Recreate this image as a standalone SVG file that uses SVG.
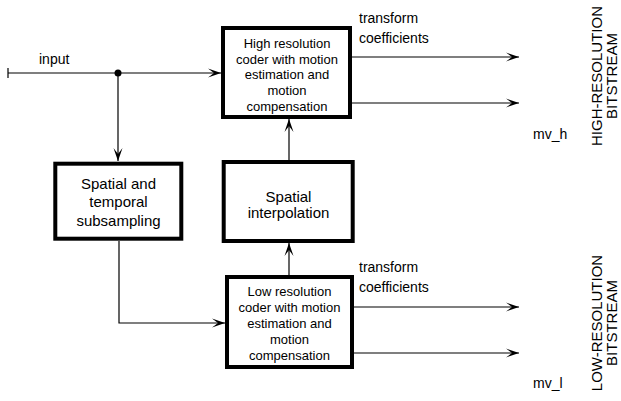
<svg xmlns="http://www.w3.org/2000/svg" width="621" height="401" viewBox="0 0 621 401">
<style>
.box{fill:#fff;stroke:#000;stroke-width:4}
.ln{fill:none;stroke:#000;stroke-width:1.2}
text{font-family:"Liberation Sans",Arial,sans-serif;fill:#000}
.s{font-size:13px;text-anchor:middle}
.m{font-size:15px;text-anchor:middle}
.l{font-size:14px}
.v{font-size:15px;text-anchor:middle}
</style>
<defs>
<marker id="ah" markerUnits="userSpaceOnUse" markerWidth="14" markerHeight="12" refX="13" refY="5" orient="auto">
<path d="M0,0.5 L13,5 L0,9.5 L6,5 z" fill="#000"/>
</marker>
</defs>
<g id="connectors">
<line class="ln" x1="8" y1="68" x2="8" y2="78"/>
<line class="ln" x1="8" y1="73" x2="221" y2="73" marker-end="url(#ah)"/>
<circle cx="118" cy="73" r="3.5" fill="#000"/>
<line class="ln" x1="118" y1="73" x2="118" y2="161" marker-end="url(#ah)"/>
<polyline class="ln" points="119,241 119,323 225,323" marker-end="url(#ah)"/>
<line class="ln" x1="289" y1="160" x2="289" y2="119" marker-end="url(#ah)"/>
<line class="ln" x1="289" y1="275" x2="289" y2="243" marker-end="url(#ah)"/>
<line class="ln" x1="352" y1="57" x2="519" y2="57" marker-end="url(#ah)"/>
<line class="ln" x1="352" y1="103" x2="519" y2="103" marker-end="url(#ah)"/>
<line class="ln" x1="354" y1="307" x2="519" y2="307" marker-end="url(#ah)"/>
<line class="ln" x1="354" y1="353" x2="519" y2="353" marker-end="url(#ah)"/>
</g>
<g id="hires">
<rect class="box" x="223" y="28" width="127" height="89"/>
<text class="s" x="287" y="48">High resolution</text>
<text class="s" x="287" y="63.7">coder with motion</text>
<text class="s" x="287" y="79.4">estimation and</text>
<text class="s" x="287" y="95.1">motion</text>
<text class="s" x="287" y="110.8">compensation</text>
</g>
<g id="subsampling">
<rect class="box" x="55.3" y="163.7" width="126" height="75"/>
<text class="m" x="118.5" y="188.5">Spatial and</text>
<text class="m" x="118.5" y="207.1">temporal</text>
<text class="m" x="118.5" y="225.7">subsampling</text>
</g>
<g id="interp">
<rect class="box" x="223.7" y="162" width="129" height="79"/>
<text class="m" x="288.5" y="201.7">Spatial</text>
<text class="m" x="288.5" y="218.4">interpolation</text>
</g>
<g id="lowres">
<rect class="box" x="227" y="277" width="125" height="90"/>
<text class="s" x="289.5" y="296">Low resolution</text>
<text class="s" x="289.5" y="312.1">coder with motion</text>
<text class="s" x="289.5" y="328.2">estimation and</text>
<text class="s" x="289.5" y="344.3">motion</text>
<text class="s" x="289.5" y="360.4">compensation</text>
</g>
<g id="labels">
<text class="l" x="39" y="64">input</text>
<text class="l" x="359" y="23">transform</text>
<text class="l" x="359" y="42.5">coefficients</text>
<text class="l" x="359" y="272">transform</text>
<text class="l" x="359" y="291.5">coefficients</text>
<text class="l" x="533" y="139">mv_h</text>
<text class="l" x="533" y="388">mv_l</text>
<text class="v" transform="translate(602,76) rotate(-90)">HIGH-RESOLUTION</text>
<text class="v" transform="translate(617,76) rotate(-90)">BITSTREAM</text>
<text class="v" transform="translate(602,323) rotate(-90)">LOW-RESOLUTION</text>
<text class="v" transform="translate(617,323) rotate(-90)">BITSTREAM</text>
</g>
</svg>
